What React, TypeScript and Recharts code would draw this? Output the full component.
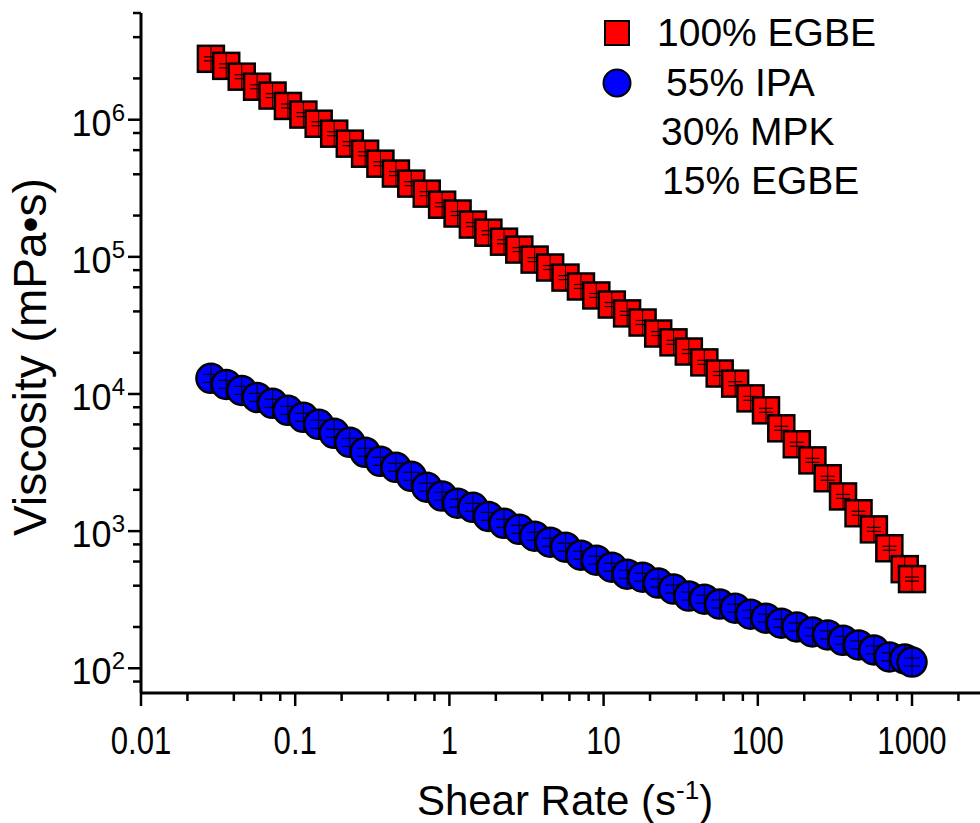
import React from "react";
import { ScatterChart, Scatter, XAxis, YAxis } from "recharts";

if (typeof document !== "undefined") document.body.style.margin = "0";

// shear rate (1/s), ~10 points per decade
const shearRate = [
  0.0284, 0.0357, 0.045, 0.0566, 0.0713, 0.0897, 0.113, 0.142, 0.179, 0.226,
  0.284, 0.357, 0.45, 0.566, 0.713, 0.897, 1.13, 1.42, 1.79, 2.26,
  2.84, 3.57, 4.5, 5.66, 7.13, 8.97, 11.3, 14.2, 17.9, 22.6,
  28.4, 35.7, 45, 56.6, 71.3, 89.7, 113, 142, 179, 226,
  284, 357, 450, 566, 713, 897, 1000,
];

// viscosity (mPa·s), 100% EGBE
const egbeViscosity = [
  2.78e6, 2.47e6, 2.06e6, 1.74e6, 1.5e6, 1.26e6, 1.09e6, 9.35e5, 7.91e5, 6.69e5,
  5.65e5, 4.78e5, 4.05e5, 3.42e5, 2.89e5, 2.4e5, 2.07e5, 1.72e5, 1.5e5, 1.29e5,
  1.13e5, 9.55e4, 8.36e4, 7.06e4, 6.08e4, 5.23e4, 4.49e4, 3.87e4, 3.32e4, 2.76e4,
  2.38e4, 2.04e4, 1.7e4, 1.41e4, 1.19e4, 9290, 7600, 5620, 4300, 3280,
  2430, 1790, 1350, 1030, 750, 528, 447,
];

// viscosity (mPa·s), 55% IPA / 30% MPK / 15% EGBE
const mixViscosity = [
  13000, 11750, 10620, 9440, 8550, 7600, 6760, 6010, 5170, 4440,
  3760, 3230, 2920, 2510, 2090, 1800, 1600, 1490, 1280, 1140,
  1030, 918, 830, 763, 667, 614, 546, 485, 461, 418,
  378, 336, 319, 294, 274, 248, 232, 213, 200, 184,
  175, 160, 148, 136, 121, 117, 111,
];

const xMajor = [0.01, 0.1, 1, 10, 100, 1000];
const yMajor = [1e2, 1e3, 1e4, 1e5, 1e6];
const minorSteps = [2, 4, 6, 8];
const legendLabels = ["100% EGBE", "55% IPA", "30% MPK", "15% EGBE"];

const X_DOMAIN = [0.01, 2760];
const Y_DOMAIN = [66, 6e6];

const xTicks = [0.001, ...xMajor]
  .flatMap((d) => [d, ...minorSteps.map((m) => d * m)])
  .filter((v) => v >= X_DOMAIN[0] * 0.999 && v <= X_DOMAIN[1]);
const yTicks = [10, ...yMajor]
  .flatMap((d) => [d, ...minorSteps.map((m) => d * m)])
  .filter((v) => v >= Y_DOMAIN[0] && v <= Y_DOMAIN[1]);

const egbeData = shearRate.map((x, i) => ({ x, y: egbeViscosity[i] }));
const mixData = shearRate.map((x, i) => ({ x, y: mixViscosity[i] }));

const isMajor = (v: number, list: number[]) => list.some((m) => Math.abs(v / m - 1) < 1e-6);

const arial = "'Liberation Sans', Arial, sans-serif";

function XTick({ x, y, payload }: any) {
  const major = isMajor(payload.value, xMajor);
  return (
    <g>
      <line x1={x} x2={x} y1={y} y2={y + (major ? 13 : 8)} stroke="#000" strokeWidth={2.5} />
      {major && (
        // narrow look like Arial Narrow
        <g transform={`translate(${x} ${y + 61}) scale(0.82 1)`}>
          <text x={0} y={0} textAnchor="middle" fontSize={38} fontFamily={arial} fill="#000">
            {String(payload.value)}
          </text>
        </g>
      )}
    </g>
  );
}

function YTick({ x, y, payload }: any) {
  const major = isMajor(payload.value, yMajor);
  const exp = Math.round(Math.log10(payload.value));
  return (
    <g>
      <line x1={x - (major ? 13 : 8)} x2={x} y1={y} y2={y} stroke="#000" strokeWidth={2.5} />
      {major && (
        <text x={x - 16} y={y + 16} textAnchor="end" fontFamily={arial} fill="#000">
          <tspan fontSize={36}>10</tspan>
          <tspan fontSize={24} dy={-15}>{exp}</tspan>
        </text>
      )}
    </g>
  );
}

function SquareMark({ cx, cy }: any) {
  return (
    <g>
      <rect x={cx - 13} y={cy - 13} width={26} height={26} fill="#ff0000" stroke="#000" strokeWidth={2.5} />
      <line x1={cx} x2={cx} y1={cy - 13} y2={cy + 13} stroke="#000" strokeWidth={1} />
      <line x1={cx - 7} x2={cx + 7} y1={cy - 2} y2={cy - 2} stroke="#000" strokeWidth={1.2} />
      <line x1={cx - 7} x2={cx + 7} y1={cy + 2} y2={cy + 2} stroke="#000" strokeWidth={1.2} />
    </g>
  );
}

function CircleMark({ cx, cy }: any) {
  return (
    <g>
      <circle cx={cx} cy={cy} r={14.5} fill="#0000ff" stroke="#000" strokeWidth={2.5} />
      <line x1={cx} x2={cx} y1={cy - 14} y2={cy + 14} stroke="#000" strokeWidth={1} />
      <line x1={cx - 8} x2={cx + 8} y1={cy - 4} y2={cy - 4} stroke="#000" strokeWidth={1.2} />
      <line x1={cx - 8} x2={cx + 8} y1={cy + 4} y2={cy + 4} stroke="#000" strokeWidth={1.2} />
    </g>
  );
}

function LegendBox() {
  return (
    <svg width={980} height={210} style={{ position: "absolute", left: 0, top: 0, pointerEvents: "none" }}>
      <rect x={605} y={21} width={24} height={24} fill="#ff0000" stroke="#000" strokeWidth={2} />
      <circle cx={617} cy={83} r={13.5} fill="#0000ff" stroke="#000" strokeWidth={2} />
      <g fontFamily={arial} fontSize={39} fill="#000">
        <text x={657} y={46}>{legendLabels[0]}</text>
        <text x={666} y={96}>{legendLabels[1]}</text>
        <text x={661} y={145}>{legendLabels[2]}</text>
        <text x={662} y={194}>{legendLabels[3]}</text>
      </g>
    </svg>
  );
}

export default function App() {
  return (
    <div style={{ position: "relative", width: 980, height: 823, background: "#fff" }}>
      <ScatterChart width={980} height={823} margin={{ top: 13, right: 0, bottom: 0, left: 0 }}>
        <XAxis
          type="number"
          dataKey="x"
          scale="log"
          domain={X_DOMAIN}
          allowDataOverflow
          ticks={xTicks}
          interval={0}
          height={130}
          tickSize={0}
          tickMargin={0}
          tickLine={false}
          tick={<XTick />}
          axisLine={{ stroke: "#000", strokeWidth: 3 }}
          label={{
            content: () => (
              <text x={565} y={815} textAnchor="middle" fontFamily={arial} fontSize={42} fill="#000">
                <tspan>Shear Rate (s</tspan>
                <tspan fontSize={26} dy={-16}>-1</tspan>
                <tspan dy={16}>)</tspan>
              </text>
            ),
          }}
        />
        <YAxis
          type="number"
          dataKey="y"
          scale="log"
          domain={Y_DOMAIN}
          allowDataOverflow
          ticks={yTicks}
          interval={0}
          width={141}
          tickSize={0}
          tickMargin={0}
          tickLine={false}
          tick={<YTick />}
          axisLine={{ stroke: "#000", strokeWidth: 3 }}
          label={{
            content: () => (
              <text
                x={46}
                y={357}
                transform="rotate(-90 46 357)"
                textAnchor="middle"
                fontFamily={arial}
                fontSize={46}
                fill="#000"
              >
                Viscosity (mPa•s)
              </text>
            ),
          }}
        />
        <Scatter name="100% EGBE" data={egbeData} shape={<SquareMark />} isAnimationActive={false} />
        <Scatter name="55% IPA 30% MPK 15% EGBE" data={mixData} shape={<CircleMark />} isAnimationActive={false} />
      </ScatterChart>
      <LegendBox />
    </div>
  );
}
